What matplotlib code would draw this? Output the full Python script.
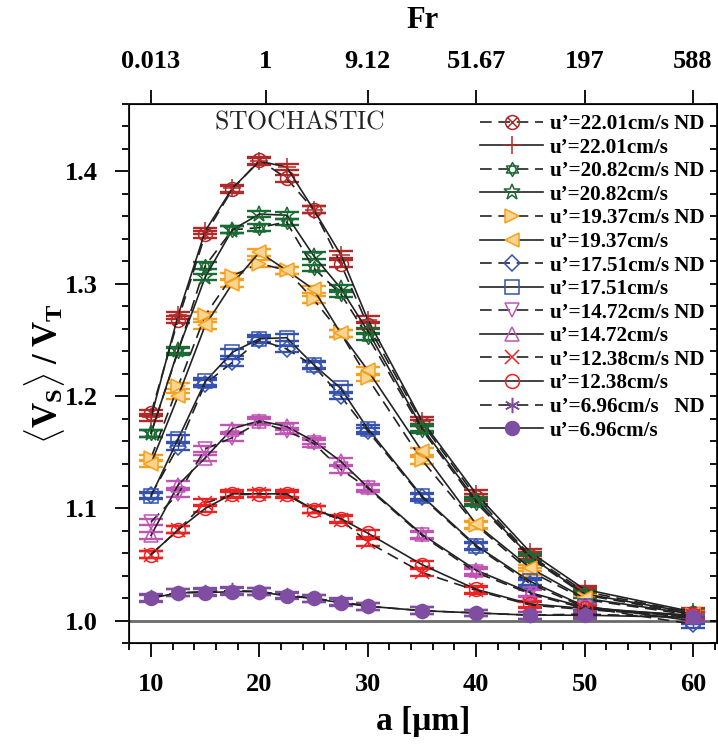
import matplotlib
matplotlib.use('Agg')
import matplotlib.pyplot as plt
from matplotlib.path import Path
from matplotlib.ticker import MultipleLocator, FixedLocator, FormatStrFormatter

plt.rcParams['font.family'] = ['Liberation Serif', 'DejaVu Serif']
plt.rcParams['font.weight'] = 'bold'
plt.rcParams['axes.labelweight'] = 'bold'
plt.rcParams['mathtext.fontset'] = 'custom'
plt.rcParams['mathtext.rm'] = 'Liberation Serif:bold'
plt.rcParams['mathtext.bf'] = 'Liberation Serif:bold'
plt.rcParams['mathtext.it'] = 'Liberation Serif:bold:italic'

# ---------------- data ----------------
a_um = [10, 12.5, 15, 17.5, 20, 22.5, 25, 27.5, 30, 35, 40, 45, 50, 60]

u2201_nd = [1.185, 1.268, 1.344, 1.384, 1.410, 1.394, 1.366, 1.318, 1.263, 1.176, 1.110, 1.058, 1.026, 1.007]
u2201    = [1.181, 1.272, 1.347, 1.385, 1.409, 1.404, 1.366, 1.326, 1.268, 1.178, 1.113, 1.061, 1.028, 1.008]
u2082_nd = [1.167, 1.240, 1.316, 1.348, 1.350, 1.355, 1.314, 1.291, 1.253, 1.170, 1.105, 1.056, 1.023, 1.006]
u2082    = [1.167, 1.241, 1.306, 1.348, 1.362, 1.361, 1.325, 1.296, 1.258, 1.172, 1.107, 1.057, 1.024, 1.007]
u1937_nd = [1.145, 1.209, 1.272, 1.307, 1.318, 1.312, 1.286, 1.256, 1.216, 1.143, 1.085, 1.044, 1.019, 1.005]
u1937    = [1.140, 1.200, 1.263, 1.300, 1.328, 1.312, 1.295, 1.256, 1.223, 1.151, 1.086, 1.047, 1.020, 1.006]
u1751_nd = [1.112, 1.155, 1.211, 1.230, 1.250, 1.242, 1.227, 1.200, 1.169, 1.110, 1.066, 1.033, 1.012, 0.997]
u1751    = [1.111, 1.162, 1.213, 1.239, 1.251, 1.252, 1.228, 1.207, 1.171, 1.111, 1.067, 1.035, 1.013, 1.000]
u1472_nd = [1.088, 1.113, 1.153, 1.163, 1.177, 1.169, 1.158, 1.135, 1.118, 1.076, 1.043, 1.024, 1.011, 1.003]
u1472    = [1.076, 1.121, 1.145, 1.171, 1.178, 1.173, 1.160, 1.142, 1.119, 1.077, 1.045, 1.025, 1.012, 1.004]
u1238_nd = [1.059, 1.081, 1.105, 1.112, 1.113, 1.112, 1.099, 1.090, 1.070, 1.043, 1.027, 1.014, 1.010, 1.004]
u1238    = [1.059, 1.081, 1.100, 1.113, 1.113, 1.113, 1.099, 1.091, 1.078, 1.050, 1.028, 1.015, 1.011, 1.005]
u696_nd  = [1.021, 1.025, 1.026, 1.027, 1.026, 1.023, 1.020, 1.017, 1.013, 1.009, 1.007, 1.005, 1.006, 1.003]
u696     = [1.020, 1.025, 1.025, 1.026, 1.026, 1.022, 1.020, 1.016, 1.013, 1.009, 1.007, 1.005, 1.005, 1.003]

err = 0.003

labels = ["u\u2019=22.01cm/s ND", "u\u2019=22.01cm/s",
          "u\u2019=20.82cm/s ND", "u\u2019=20.82cm/s",
          "u\u2019=19.37cm/s ND", "u\u2019=19.37cm/s",
          "u\u2019=17.51cm/s ND", "u\u2019=17.51cm/s",
          "u\u2019=14.72cm/s ND", "u\u2019=14.72cm/s",
          "u\u2019=12.38cm/s ND", "u\u2019=12.38cm/s",
          "u\u2019=6.96cm/s   ND", "u\u2019=6.96cm/s"]

fr_pos = [10, 20.6, 30, 40, 50, 60]
fr_labels = ["0.013", "1", "9.12", "51.67", "197", "588"]

# ---------------- markers / styles ----------------
d = 0.7071
otimes = Path.make_compound_path(
    Path.unit_circle(),
    Path([(-d, -d), (d, d), (-d, d), (d, -d)],
         [Path.MOVETO, Path.LINETO, Path.MOVETO, Path.LINETO]))
hexa = Path.make_compound_path(
    Path([(0, 1), (-0.866, -0.5), (0.866, -0.5), (0, 1)], closed=True),
    Path([(0, -1), (0.866, 0.5), (-0.866, 0.5), (0, -1)], closed=True))

c_dred = '#b02a2a'
c_green = '#1b6b34'
c_orange = '#f5a020'
c_blue = '#3552b0'
c_mag = '#c055b5'
c_red = '#ee2222'
c_purp = '#7f4ea3'

series = [u2201_nd, u2201, u2082_nd, u2082, u1937_nd, u1937,
          u1751_nd, u1751, u1472_nd, u1472, u1238_nd, u1238, u696_nd, u696]
styles = [
    dict(c=c_dred, m=otimes, fc='none', ms=10, nd=True),
    dict(c=c_dred, m='+', fc='none', ms=13, nd=False),
    dict(c=c_green, m=hexa, fc='none', ms=10, nd=True),
    dict(c=c_green, m='*', fc='none', ms=12, nd=False),
    dict(c=c_orange, m='>', fc='#fbd590', ms=10, nd=True),
    dict(c=c_orange, m='<', fc='#fbd590', ms=10, nd=False),
    dict(c=c_blue, m='D', fc='none', ms=8, nd=True),
    dict(c=c_blue, m='s', fc='none', ms=9.5, nd=False),
    dict(c=c_mag, m='v', fc='none', ms=10, nd=True),
    dict(c=c_mag, m='^', fc='none', ms=10, nd=False),
    dict(c=c_red, m='x', fc='none', ms=10, nd=True),
    dict(c=c_red, m='o', fc='none', ms=10, nd=False),
    dict(c=c_purp, m=(6, 2, 0), fc='none', ms=11, nd=True),
    dict(c=c_purp, m='o', fc=c_purp, ms=10, nd=False),
]

fig = plt.figure(figsize=(7.18, 7.46), dpi=100)
ax = fig.add_axes([0.1802, 0.1377, 0.818, 0.7229])
ax.set_xlim(8, 62.2)
ax.set_ylim(0.98, 1.46)

ax.axhline(1.0, color='#6a6a6a', lw=2.0, zorder=1)

handles = []
for y, st, lab in zip(series, styles, labels):
    ax.errorbar(a_um, y, yerr=err, fmt='none', ecolor=st['c'], elinewidth=1.0,
                capsize=8.5, capthick=1.7, zorder=2)
    ls = (0, (7, 4)) if st['nd'] else '-'
    h, = ax.plot(a_um, y, color='#222222', lw=1.2, ls=ls, marker=st['m'],
                 ms=st['ms'], mec=st['c'], mfc=st['fc'], mew=1.1, zorder=3,
                 label=lab)
    handles.append(h)

ax.legend(handles=handles, loc='upper left', bbox_to_anchor=(0.597, 0.9815),
          frameon=False, fontsize=15.2, handlelength=3.0, handletextpad=0.3,
          labelspacing=0.17, borderpad=0, borderaxespad=0)

ax.text(0.2905, 0.967, r'$\mathrm{STOCHASTIC}$', transform=ax.transAxes,
        ha='center', va='center', fontsize=18.5, math_fontfamily='cm',
        color='#222222')

# axes styling
for s in ax.spines.values():
    s.set_linewidth(1.3)
    s.set_color('#222222')
ax.xaxis.set_major_locator(MultipleLocator(10))
ax.xaxis.set_minor_locator(MultipleLocator(2))
ax.yaxis.set_major_locator(MultipleLocator(0.1))
ax.yaxis.set_minor_locator(MultipleLocator(0.02))
ax.yaxis.set_major_formatter(FormatStrFormatter('%.1f'))
ax.tick_params(axis='both', which='major', direction='out', length=10, width=1.3,
               labelsize=19, top=False, right=False)
ax.tick_params(axis='both', which='minor', direction='out', length=5, width=1.3,
               top=False, right=False)
ax.tick_params(axis='y', which='major', pad=13)
ax.tick_params(axis='x', which='major', pad=11.5)

ax.set_xlabel('a [\u03bcm]', fontsize=24, fontweight='bold', labelpad=7)
ax.set_ylabel(r'$\langle\mathbf{V}_\mathbf{S}\rangle\;/\;\mathbf{V}_\mathbf{T}$',
              fontsize=25, labelpad=-2)

# top Fr axis
ax2 = ax.twiny()
ax2.set_xlim(ax.get_xlim())
ax2.xaxis.set_major_locator(FixedLocator(fr_pos))
ax2.set_xticklabels(fr_labels)
ax2.tick_params(axis='x', which='major', direction='out', length=10, width=1.3,
                labelsize=19, pad=12)
ax2.tick_params(axis='x', which='minor', length=0)
ax2.set_xlabel('Fr', fontsize=22, fontweight='bold', labelpad=16)
for s in ax2.spines.values():
    s.set_linewidth(1.3)
    s.set_color('#222222')

# right inward ticks
ax3 = ax.twinx()
ax3.set_ylim(ax.get_ylim())
ax3.yaxis.set_major_locator(MultipleLocator(0.02))
ax3.tick_params(axis='y', which='major', direction='in', length=5, width=1.3,
                labelright=False)
ax3.tick_params(axis='y', which='minor', length=0)

fig.savefig('out.png', dpi=100)
